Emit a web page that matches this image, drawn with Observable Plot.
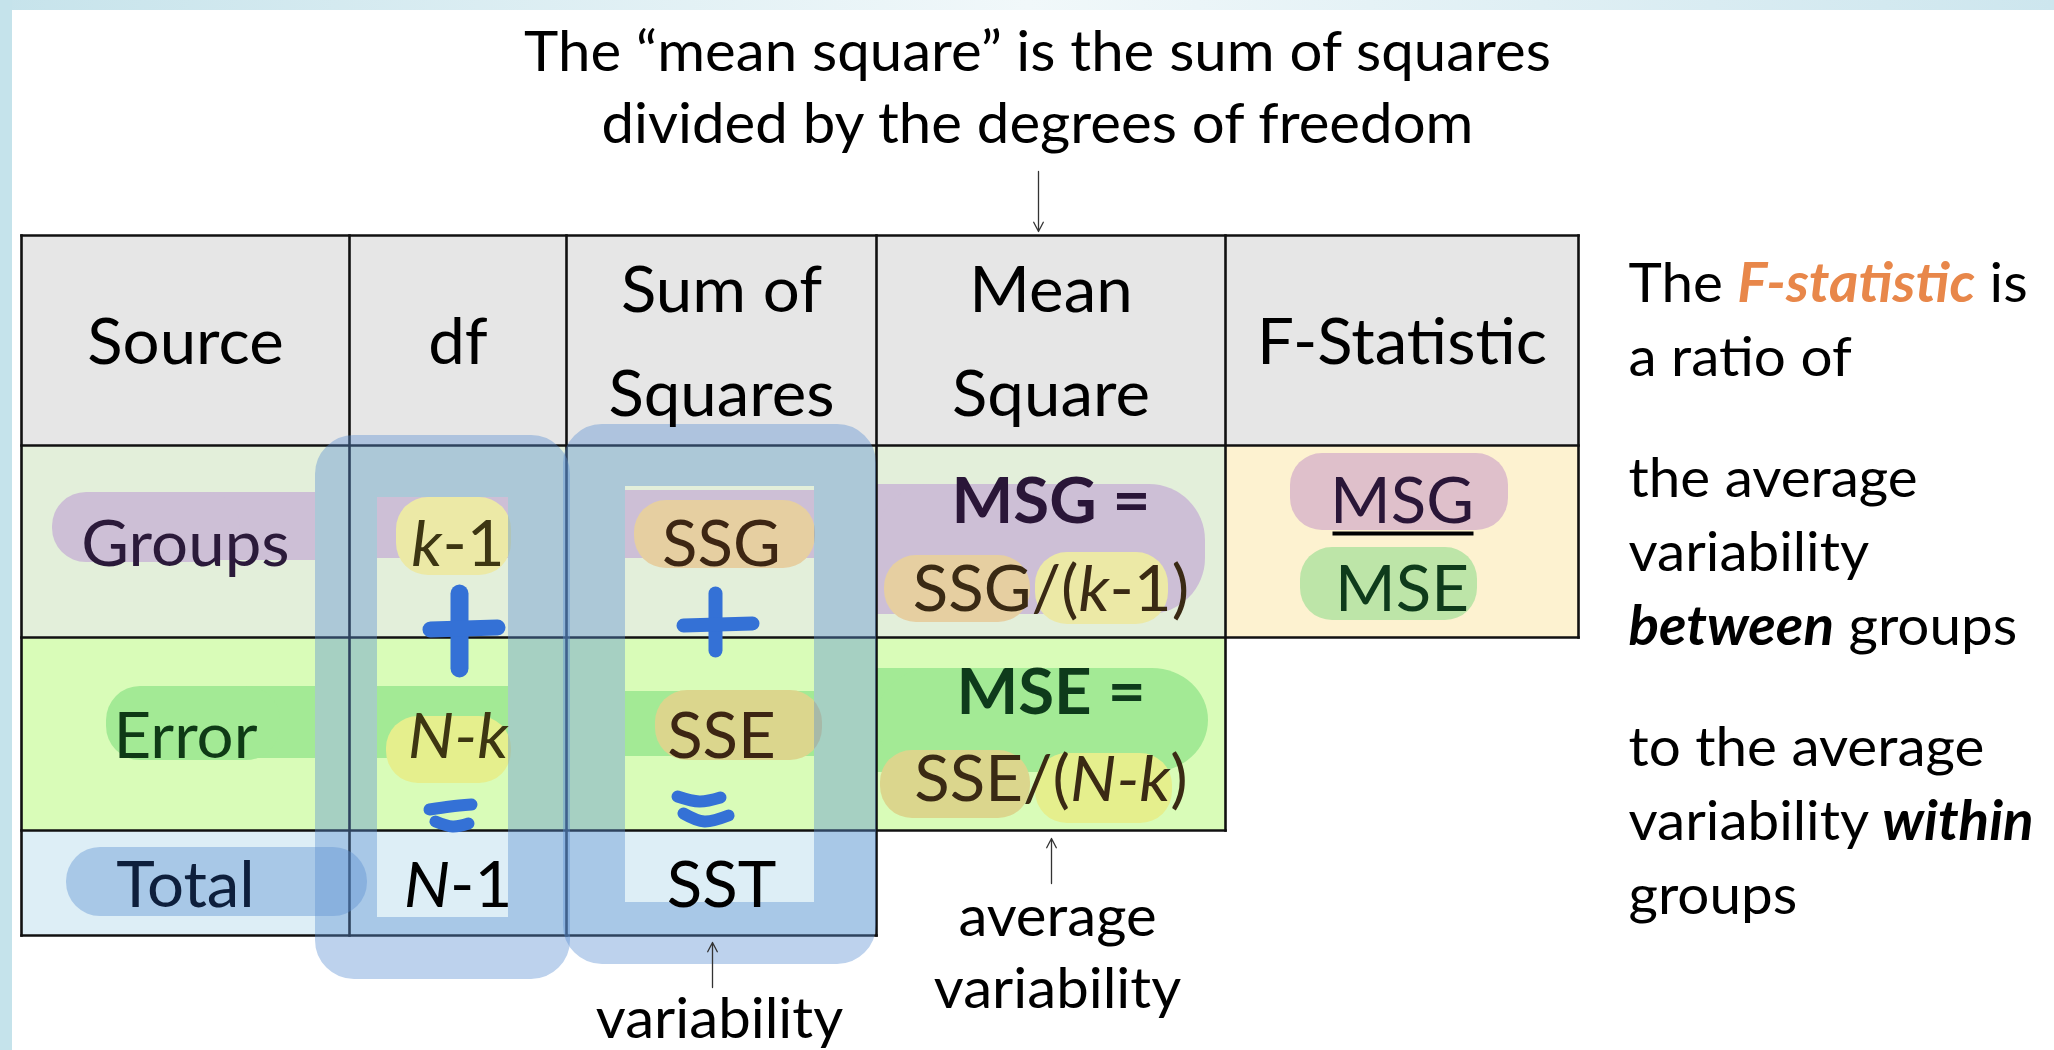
<!DOCTYPE html>
<html><head><meta charset="utf-8">
<script src="https://cdn.jsdelivr.net/npm/d3@7"></script>
<script src="https://cdn.jsdelivr.net/npm/@observablehq/plot@0.6"></script>
<style>html,body{margin:0;padding:0;background:#fff;overflow:hidden}#chart svg{display:block}</style>
</head><body><div id="chart"></div>
<script>
// ---------------- data (texts of the ANOVA table) ----------------
const columns = ["Source", "df", "Sum of\nSquares", "Mean\nSquare", "F-Statistic"];
const sources = ["Groups", "Error", "Total"];
const dfValues = ["{i|k}-1", "{i|N-k}", "{i|N}-1"];
const ssValues = ["SSG", "SSE", "SST"];
const msNames = ["MSG =", "MSE ="];
const msFormulas = ["SSG/({i|k}-1)", "SSE/({i|N-k})"];
const fRatio = ["MSG", "MSE"];
const titleLines = ["The \u201cmean square\u201d is the sum of squares", "divided by the degrees of freedom"];
const ssNote = ["variability"];
const msNote = ["average", "variability"];
const sideNotes = [
  ["The {bio|F-statistic} is", "a ratio of"],
  ["the average", "variability", "{bi|between} groups"],
  ["to the average", "variability {bi|within}", "groups"]
];

// ---------------- layout & style ----------------
const W = 2054, H = 1050;
const colEdges = [21, 349, 566, 876, 1225, 1578];
const rowEdges = [235, 445, 637, 830, 935];
const rowCols = [5, 5, 4, 3];
const colMid = i => (colEdges[i] + colEdges[i + 1]) / 2;
const headBase = [363, 415];
const rowBase = [565, 757, 906];
const msBase = [[522, 610], [713, 800]];
const titleBase = 142, titleX = 1037;
const sideX = 1628, sideBase = [375, 644, 913];

const sourceColors = ["#2b1a3a", "#0f3a16", "#0e1f3c"];
const dfColors = ["#3d3612", "#3d3612", "#000"];
const ssColors = ["#3d2613", "#3d2613", "#000"];
const msColors = ["#2a1638", "#0e3b1b"];
const formulaColors = ["#3a2a14", "#3a2a14"];
const fColors = ["#2a1638", "#0e3b1b"];
const BLUE = "#598ed2", BLUE_OP = 0.4, SIGN = "#3471d6";
const C = {purple: "#cdbfd6", yellow: "#ece9a6", orange: "#e6cfa1", lime: "#e5ef8d", tan: "#dbd68d",
           green: "#a3ea95", pink: "#dfc0cb", mint: "#bde5a8"};

// cell fills
const cells = [
  {x1: colEdges[0], x2: colEdges[5], y1: rowEdges[0], y2: rowEdges[1], fill: "#e6e6e6"},
  {x1: colEdges[0], x2: colEdges[4], y1: rowEdges[1], y2: rowEdges[2], fill: "#e3efda"},
  {x1: colEdges[4], x2: colEdges[5], y1: rowEdges[1], y2: rowEdges[2], fill: "#fdf2d0"},
  {x1: colEdges[0], x2: colEdges[4], y1: rowEdges[2], y2: rowEdges[3], fill: "#d9fcb8"},
  {x1: colEdges[0], x2: colEdges[3], y1: rowEdges[3], y2: rowEdges[4], fill: "#ddeef6"}
];
// grid lines
const grid = [];
rowEdges.forEach((y, i) => {
  const n = Math.max(rowCols[i - 1] || 0, rowCols[i] || 0);
  grid.push({x1: colEdges[0], x2: colEdges[n], y1: y, y2: y});
});
colEdges.forEach((x, j) => {
  let last = 0; rowCols.forEach((c, r) => { if (c >= j) last = r; });
  grid.push({x1: x, x2: x, y1: rowEdges[0], y2: rowEdges[last + 1]});
});

// highlighter strokes (row bands are interrupted by the blue column outlines)
const bandSquare = [
  {x1: 180, x2: 315, y1: 492, y2: 560, fill: C.purple},
  {x1: 377, x2: 508, y1: 497, y2: 558, fill: C.purple},
  {x1: 625, x2: 814, y1: 490, y2: 558, fill: C.purple},
  {x1: 876, x2: 1000, y1: 484, y2: 614, fill: C.purple},
  {x1: 220, x2: 315, y1: 686, y2: 758, fill: C.green},
  {x1: 377, x2: 508, y1: 686, y2: 758, fill: C.green},
  {x1: 625, x2: 814, y1: 691, y2: 756, fill: C.green},
  {x1: 876, x2: 1000, y1: 668, y2: 772, fill: C.green}
];
const bandRound = [
  {x1: 52, x2: 240, y1: 492, y2: 562, fill: C.purple},
  {x1: 106, x2: 280, y1: 686, y2: 760, fill: C.green}
];
const bigBlobs = [
  {x1: 876, x2: 1205, y1: 484, y2: 614, fill: C.purple},
  {x1: 876, x2: 1208, y1: 668, y2: 772, fill: C.green}
];
const blobs = [
  {x1: 396, x2: 511, y1: 497, y2: 575, fill: C.yellow},
  {x1: 634, x2: 815, y1: 500, y2: 568, fill: C.orange},
  {x1: 884, x2: 1030, y1: 555, y2: 622, fill: C.orange},
  {x1: 1035, x2: 1168, y1: 552, y2: 624, fill: C.yellow},
  {x1: 1290, x2: 1508, y1: 453, y2: 530, fill: C.pink},
  {x1: 1300, x2: 1477, y1: 547, y2: 620, fill: C.mint},
  {x1: 386, x2: 511, y1: 716, y2: 783, fill: C.lime},
  {x1: 655, x2: 822, y1: 690, y2: 760, fill: C.tan},
  {x1: 880, x2: 1030, y1: 750, y2: 818, fill: C.tan},
  {x1: 1035, x2: 1172, y1: 753, y2: 823, fill: C.lime}
];
const outlines = [{x1: 346, x2: 539, y1: 466, y2: 948}, {x1: 594, x2: 845, y1: 455, y2: 933}];
const totalBlob = [{x1: 66, x2: 367, y1: 847, y2: 916}];
const plusStrokes = [
  {x1: 459, y1: 593, x2: 459, y2: 668, w: 18}, {x1: 430, y1: 629, x2: 497, y2: 627, w: 16},
  {x1: 715, y1: 593, x2: 715, y2: 650, w: 14}, {x1: 683, y1: 625, x2: 752, y2: 623, w: 14}
];
const eqStrokes = [
  [[429, 809], [450, 806], [471, 804]], [[435, 821], [452, 826], [468, 823]],
  [[677, 796], [699, 801], [720, 797]], [[683, 813], [704, 821], [728, 815]]
].flatMap((pts, z) => pts.map(([x, y]) => ({x, y, z})));
const arrows = [
  {x1: 1038, y1: 171, x2: 1038, y2: 231},
  {x1: 712, y1: 987, x2: 712, y2: 942},
  {x1: 1051, y1: 883, x2: 1051, y2: 838}
];
const underline = [{x1: 1332, x2: 1473, y1: 533, y2: 533}];

// label tables
const headLabels = columns.map((t, i) => ({text: t, x: colMid(i), y: t.includes("\n") ? headBase[1] : headBase[0]}));
const bodyLabels = [
  ...sources.map((t, i) => ({text: t, x: colMid(0), y: rowBase[i], fill: sourceColors[i]})),
  ...dfValues.map((t, i) => ({text: t, x: colMid(1), y: rowBase[i], fill: dfColors[i]})),
  ...ssValues.map((t, i) => ({text: t, x: colMid(2), y: rowBase[i], fill: ssColors[i]})),
  ...msFormulas.map((t, i) => ({text: t, x: colMid(3), y: msBase[i][1], fill: formulaColors[i]})),
  ...fRatio.map((t, i) => ({text: t, x: colMid(4), y: msBase[0][i], fill: fColors[i]}))
];
const boldLabels = msNames.map((t, i) => ({text: t, x: colMid(3), y: msBase[i][0], fill: msColors[i]}));
const noteLabels = [
  {text: titleLines.join("\n"), x: titleX, y: titleBase},
  {text: ssNote.join("\n"), x: 719, y: 1037},
  {text: msNote.join("\n"), x: 1057, y: 1007}
];
const sideLabels = sideNotes.map((lines, i) => ({text: lines.join("\n"), x: sideX, y: sideBase[i]}));

const R = {x1: "x1", x2: "x2", y1: "y1", y2: "y2"};
const svg = Plot.plot({
  width: W, height: H, margin: 0,
  x: {domain: [0, W], range: [0, W], axis: null},
  y: {domain: [0, H], range: [0, H], axis: null},
  color: {type: "identity"},
  style: {fontFamily: "Lato", background: "#fff"},
  marks: [
    Plot.rect([{x1: 0, x2: W, y1: 0, y2: 10}], {...R, fill: "url(#topGrad)"}),
    Plot.rect([{x1: 0, x2: 12, y1: 0, y2: H}], {...R, fill: "#c5e3eb"}),
    Plot.rect(cells, {...R, fill: "fill"}),
    Plot.rect(bandSquare, {...R, fill: "fill"}),
    Plot.rect(bandRound, {...R, fill: "fill", rx: 34}),
    Plot.rect(bigBlobs, {...R, fill: "fill", rx: 56}),
    Plot.rect(blobs, {...R, fill: "fill", rx: 32}),
    Plot.link(grid, {...R, stroke: "#111", strokeWidth: 2.6, strokeLinecap: "square"}),
    Plot.rect(outlines, {...R, fill: "none", stroke: BLUE, strokeOpacity: BLUE_OP, strokeWidth: 62, rx: 8}),
    Plot.rect(totalBlob, {...R, fill: BLUE, fillOpacity: BLUE_OP, rx: 34}),
    Plot.link(plusStrokes, {...R, stroke: SIGN, strokeWidth: "w", strokeLinecap: "round"}),
    Plot.line(eqStrokes, {x: "x", y: "y", z: "z", curve: "natural", stroke: SIGN, strokeWidth: 12, strokeLinecap: "round"}),
    Plot.link(underline, {...R, stroke: "#000", strokeWidth: 4}),
    Plot.arrow(arrows, {...R, stroke: "#333", strokeWidth: 1.3, headLength: 12, headAngle: 55}),
    Plot.text(noteLabels, {x: "x", y: "y", text: "text", fill: "#000", fontSize: 56, lineHeight: 72 / 56, lineAnchor: "bottom", textAnchor: "middle"}),
    Plot.text(headLabels, {x: "x", y: "y", text: "text", fill: "#000", fontSize: 63, lineHeight: 104 / 63, lineAnchor: "bottom", textAnchor: "middle"}),
    Plot.text(bodyLabels, {x: "x", y: "y", text: "text", fill: "fill", fontSize: 63, lineAnchor: "bottom", textAnchor: "middle"}),
    Plot.text(boldLabels, {x: "x", y: "y", text: "text", fill: "fill", fontSize: 63, fontWeight: "bold", lineAnchor: "bottom", textAnchor: "middle"}),
    Plot.text(sideLabels, {x: "x", y: "y", text: "text", fill: "#000", fontSize: 54.5, lineHeight: 74 / 54.5, lineAnchor: "bottom", textAnchor: "start"})
  ]
});
document.getElementById("chart").append(svg);

// gradient for the top strip
const NS = "http://www.w3.org/2000/svg";
const defs = document.createElementNS(NS, "defs");
defs.innerHTML = '<linearGradient id="topGrad" x1="0" y1="0" x2="1" y2="0"><stop offset="0" stop-color="#c6e3eb"/><stop offset="0.5" stop-color="#f1f8fa"/><stop offset="1" stop-color="#cde6ee"/></linearGradient>';
svg.insertBefore(defs, svg.firstChild);

// rich text: {i|..} italic, {bi|..} bold italic, {bio|..} bold italic orange
const STY = {i: {"font-style": "italic"}, bi: {"font-style": "italic", "font-weight": "bold"},
             bio: {"font-style": "italic", "font-weight": "bold", "fill": "#e8874a"}};
svg.querySelectorAll("text, tspan").forEach(el => {
  if (el.children.length) return;
  const s = el.textContent;
  if (!s.includes("{")) return;
  el.textContent = "";
  const re = /\{(\w+)\|([^}]*)\}/g;
  let last = 0, m;
  const add = (str, st) => {
    const t = document.createElementNS(NS, "tspan");
    t.textContent = str;
    if (st) for (const k in STY[st]) t.setAttribute(k, STY[st][k]);
    el.appendChild(t);
  };
  while ((m = re.exec(s))) {
    if (m.index > last) add(s.slice(last, m.index));
    add(m[2], m[1]);
    last = re.lastIndex;
  }
  if (last < s.length) add(s.slice(last));
});

// narrow the font horizontally to the reference's proportions
const probe = document.createElementNS(NS, "text");
probe.setAttribute("font-family", "Lato");
probe.setAttribute("font-size", "56");
probe.textContent = titleLines[0];
svg.appendChild(probe);
const sx = 1027 / probe.getComputedTextLength();
probe.remove();
svg.querySelectorAll("text").forEach(t => {
  const tr = t.getAttribute("transform");
  if (tr) t.setAttribute("transform", tr + ` scale(${sx},1)`);
  else {
    const x = parseFloat(t.getAttribute("x")) || 0;
    t.setAttribute("x", 0);
    t.setAttribute("transform", `translate(${x},0) scale(${sx},1)`);
  }
});
</script></body></html>
